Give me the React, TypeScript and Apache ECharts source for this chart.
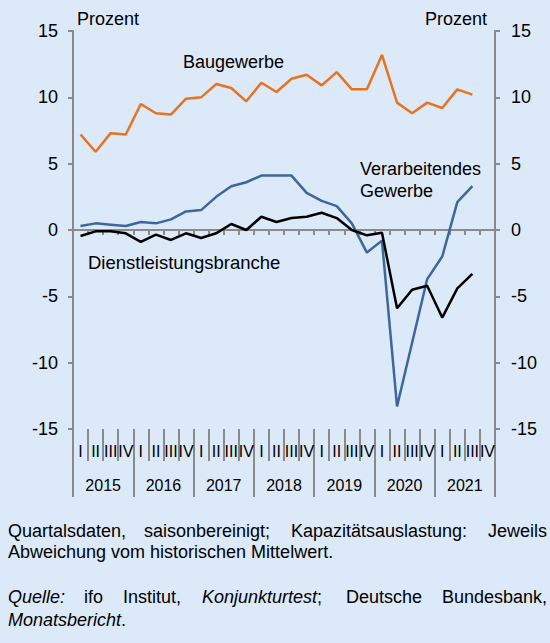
import React, { useEffect, useRef } from "react";
import * as echarts from "echarts";

const quarterNames = ["I", "II", "III", "IV"];
const years = ["2015", "2016", "2017", "2018", "2019", "2020", "2021"];
const quarterLabels: string[] = years.flatMap(() => quarterNames);
const quarterIds: string[] = years.flatMap((y) => quarterNames.map((q) => `${y} ${q}`));

const yTicks = { min: -15, max: 15, interval: 5 };

const baugewerbe = [
  7.2, 5.9, 7.3, 7.2, 9.5, 8.8, 8.7, 9.9, 10.0, 11.0, 10.7, 9.7, 11.1, 10.4, 11.4, 11.7,
  10.9, 11.9, 10.6, 10.6, 13.2, 9.6, 8.8, 9.6, 9.2, 10.6, 10.2,
];
const verarbeitendes = [
  0.3, 0.5, 0.4, 0.3, 0.6, 0.5, 0.8, 1.4, 1.5, 2.5, 3.3, 3.6, 4.1, 4.1, 4.1, 2.8,
  2.2, 1.8, 0.5, -1.7, -0.8, -13.3, -8.5, -3.7, -2.0, 2.1, 3.3,
];
const dienstleistung = [
  -0.45, -0.1, -0.1, -0.25, -0.9, -0.35, -0.75, -0.25, -0.6, -0.25, 0.45, 0.0, 1.0, 0.6, 0.9, 1.0,
  1.3, 0.9, 0.0, -0.4, -0.2, -5.9, -4.5, -4.2, -6.6, -4.4, -3.3,
];

const FONT = "'Liberation Sans', Arial, sans-serif";
const AXIS_GRAY = "#8a8a8a";
const BG = "#dce9f8";

export default function App() {
  const ref = useRef<HTMLDivElement>(null);

  useEffect(() => {
    if (!ref.current) return;
    const chart = echarts.init(ref.current, undefined, { renderer: "svg" });

    const txt = (text: string, x: number, y: number, opts: any = {}) => ({
      type: "text",
      x,
      y,
      style: {
        text,
        fontFamily: FONT,
        fontSize: 18,
        fill: "#000",
        verticalAlign: "middle",
        align: "left",
        ...opts,
      },
    });

    const rich = {
      i: { fontFamily: FONT, fontSize: 18, fontStyle: "italic", fill: "#000" },
      n: { fontFamily: FONT, fontSize: 18, fill: "#000" },
    };

    const option: any = {
      animation: false,
      backgroundColor: BG,
      grid: { left: 73, right: 55, top: 31, bottom: 214, containLabel: false },
      xAxis: [
        {
          type: "category",
          data: quarterIds,
          boundaryGap: true,
          position: "bottom",
          axisLine: { show: true, onZero: true, onZeroAxisIndex: 0, lineStyle: { color: AXIS_GRAY, width: 2 } },
          axisTick: { show: true, interval: 0, length: 5, lineStyle: { color: AXIS_GRAY, width: 2 } },
          axisLabel: { show: false },
          splitLine: { show: false },
        },
        {
          type: "category",
          data: quarterLabels,
          boundaryGap: true,
          position: "bottom",
          axisLine: { show: false, onZero: false },
          axisTick: { show: true, interval: 0, length: 32, lineStyle: { color: AXIS_GRAY, width: 2 } },
          axisLabel: { show: true, interval: 0, margin: 14, fontSize: 16, fontFamily: FONT, color: "#000" },
          splitLine: { show: false },
        },
        {
          type: "category",
          data: years,
          boundaryGap: true,
          position: "bottom",
          axisLine: { show: false, onZero: false },
          axisTick: { show: true, interval: 0, length: 68, lineStyle: { color: AXIS_GRAY, width: 2 } },
          axisLabel: { show: true, interval: 0, margin: 48, fontSize: 16, fontFamily: FONT, color: "#000" },
          splitLine: { show: false },
        },
      ],
      yAxis: [
        {
          type: "value",
          position: "left",
          min: yTicks.min,
          max: yTicks.max,
          interval: yTicks.interval,
          axisLine: { show: true, onZero: false, lineStyle: { color: AXIS_GRAY, width: 2 } },
          axisTick: { show: true, length: 5, lineStyle: { color: AXIS_GRAY, width: 2 } },
          axisLabel: { margin: 15, fontSize: 18, fontFamily: FONT, color: "#000" },
          splitLine: { show: false },
        },
        {
          type: "value",
          position: "right",
          min: yTicks.min,
          max: yTicks.max,
          interval: yTicks.interval,
          axisLine: { show: true, onZero: false, lineStyle: { color: AXIS_GRAY, width: 2 } },
          axisTick: { show: true, length: 5, lineStyle: { color: AXIS_GRAY, width: 2 } },
          axisLabel: { margin: 16, fontSize: 18, fontFamily: FONT, color: "#000" },
          splitLine: { show: false },
        },
      ],
      series: [
        {
          name: "Baugewerbe",
          type: "line",
          xAxisIndex: 0,
          yAxisIndex: 0,
          data: baugewerbe,
          symbol: "none",
          lineStyle: { color: "#e8731e", width: 2.5 },
        },
        {
          name: "Verarbeitendes Gewerbe",
          type: "line",
          xAxisIndex: 0,
          yAxisIndex: 0,
          data: verarbeitendes,
          symbol: "none",
          lineStyle: { color: "#3d679c", width: 2.5 },
        },
        {
          name: "Dienstleistungsbranche",
          type: "line",
          xAxisIndex: 0,
          yAxisIndex: 0,
          data: dienstleistung,
          symbol: "none",
          lineStyle: { color: "#000000", width: 2.5 },
        },
      ],
      graphic: [
        txt("Prozent", 77, 19),
        txt("Prozent", 487, 19, { align: "right" }),
        txt("Baugewerbe", 183, 62),
        txt("Verarbeitendes", 360, 169),
        txt("Gewerbe", 360, 191),
        txt("Dienstleistungsbranche", 88, 262, { fontSize: 18.5 }),
        txt("Quartalsdaten,", 8, 531),
        txt("saisonbereinigt;", 144, 531),
        txt("Kapazitätsauslastung:", 291, 531),
        txt("Jeweils", 547, 531, { align: "right" }),
        txt("Abweichung vom historischen Mittelwert.", 8, 552),
        txt("Quelle:", 8, 597, { fontStyle: "italic" }),
        txt("ifo", 84, 597),
        txt("Institut,", 123, 597),
        txt("{i|Konjunkturtest}{n|;}", 202, 597, { rich }),
        txt("Deutsche", 346, 597),
        txt("Bundesbank,", 547, 597, { align: "right" }),
        txt("{i|Monatsbericht}{n|.}", 8, 620, { rich }),
      ],
    };

    chart.setOption(option);
    return () => chart.dispose();
  }, []);

  return (
    <div
      ref={ref}
      style={{ position: "fixed", left: 0, top: 0, width: 550, height: 643, background: BG }}
    />
  );
}
